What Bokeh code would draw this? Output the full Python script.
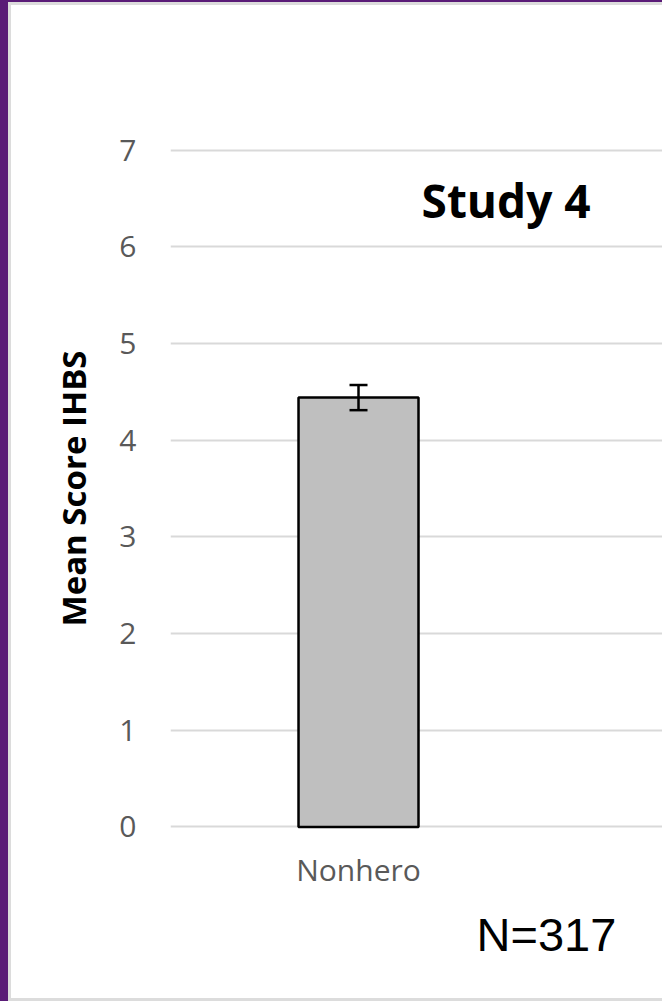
from bokeh.plotting import figure
from bokeh.models import Range1d, FixedTicker, Label, Whisker, ColumnDataSource, TeeHead, Title
from bokeh.embed import file_html
from bokeh.resources import INLINE

# ---- data ----
categories = ["Nonhero"]
means = [4.44]
err_lower = [4.31]
err_upper = [4.57]
y_ticks = [0, 1, 2, 3, 4, 5, 6, 7]
y_title = "Mean Score IHBS"
study_label = "Study 4"
n_label = "N=317"

cat_x = [i + 0.5 for i in range(len(categories))]
src = ColumnDataSource(dict(x=cat_x, top=means, lower=err_lower, upper=err_upper))

W, H = 662, 1001          # host size (borders inside, border-box)
OX, OY = 8, 2             # purple border widths
CW, CH = W - OX, H - OY   # canvas size
PX = 376.0                # pixels per category
PY = 675.0 / 7            # pixels per y unit
frame_left_img, frame_top_img, frame_bot_img = 170, 147, 827
y0_img = 824.5
x_start = 3 / PX
y_top = 7 + (149.5 - frame_top_img) / PY
y_bot = -(frame_bot_img - y0_img) / PY

p = figure(width=W, height=H, output_backend="svg", toolbar_location=None,
           x_range=Range1d(x_start, x_start + (W - frame_left_img) / PX),
           y_range=Range1d(y_bot, y_top),
           min_border_left=frame_left_img - OX, min_border_right=0,
           min_border_top=frame_top_img - OY,
           min_border_bottom=CH - (frame_bot_img - OY),
           styles={"border-left": "8px solid #5a1b77", "border-top": "2px solid #5a1b77",
                   "background-color": "white",
                   "box-shadow": "inset 3px 3px 0 #dcdcdc, inset 0 -3px 0 #dcdcdc"})
p.outline_line_color = None
p.background_fill_color = "white"
p.border_fill_color = None

# grid
p.xgrid.grid_line_color = None
p.ygrid.ticker = FixedTicker(ticks=y_ticks)
p.ygrid.grid_line_color = "#d9d9d9"
p.ygrid.grid_line_width = 2

p.vbar(x="x", top="top", width=0.314, bottom=0, source=src,
       fill_color="#bfbfbf", line_color="black", line_width=2.5)

wh = Whisker(source=src, base="x", lower="lower", upper="upper",
             line_color="black", line_width=2.5,
             upper_head=TeeHead(size=18, line_width=2.5, line_color="black"),
             lower_head=TeeHead(size=18, line_width=2.5, line_color="black"))
wh.level = "annotation"
p.add_layout(wh)

# y axis
ya = p.yaxis[0]
ya.ticker = FixedTicker(ticks=y_ticks)
ya.axis_line_color = None
ya.major_tick_line_color = None
ya.minor_tick_line_color = None
ya.major_tick_out = 0
ya.major_label_standoff = 34
ya.major_label_text_font = "Open Sans"
ya.major_label_text_font_size = "30px"
ya.major_label_text_color = "#595959"
ya.axis_label = y_title
ya.axis_label_text_font = "Open Sans"
ya.axis_label_text_font_style = "bold"
ya.axis_label_text_font_size = "33px"
ya.axis_label_text_color = "black"
ya.axis_label_standoff = 20

# x axis (category labels)
xa = p.xaxis[0]
xa.ticker = FixedTicker(ticks=cat_x)
xa.major_label_overrides = {cat_x[i]: c for i, c in enumerate(categories)}
xa.axis_line_color = None
xa.major_tick_line_color = None
xa.minor_tick_line_color = None
xa.major_tick_out = 0
xa.major_label_standoff = 19
xa.major_label_text_font = "Open Sans"
xa.major_label_text_font_size = "30px"
xa.major_label_text_color = "#595959"

p.add_layout(Label(x=0.665, y=6.487, text=study_label, text_font="Open Sans",
                   text_font_style="bold", text_font_size="46px",
                   text_color="black", text_baseline="middle", text_align="left"))

p.add_layout(Title(text=n_label, text_font="Liberation Sans", text_font_size="47px",
                   text_font_style="normal", text_color="black", align="left",
                   offset=306, standoff=27), "below")

open("out.html", "w").write(file_html(p, INLINE))
